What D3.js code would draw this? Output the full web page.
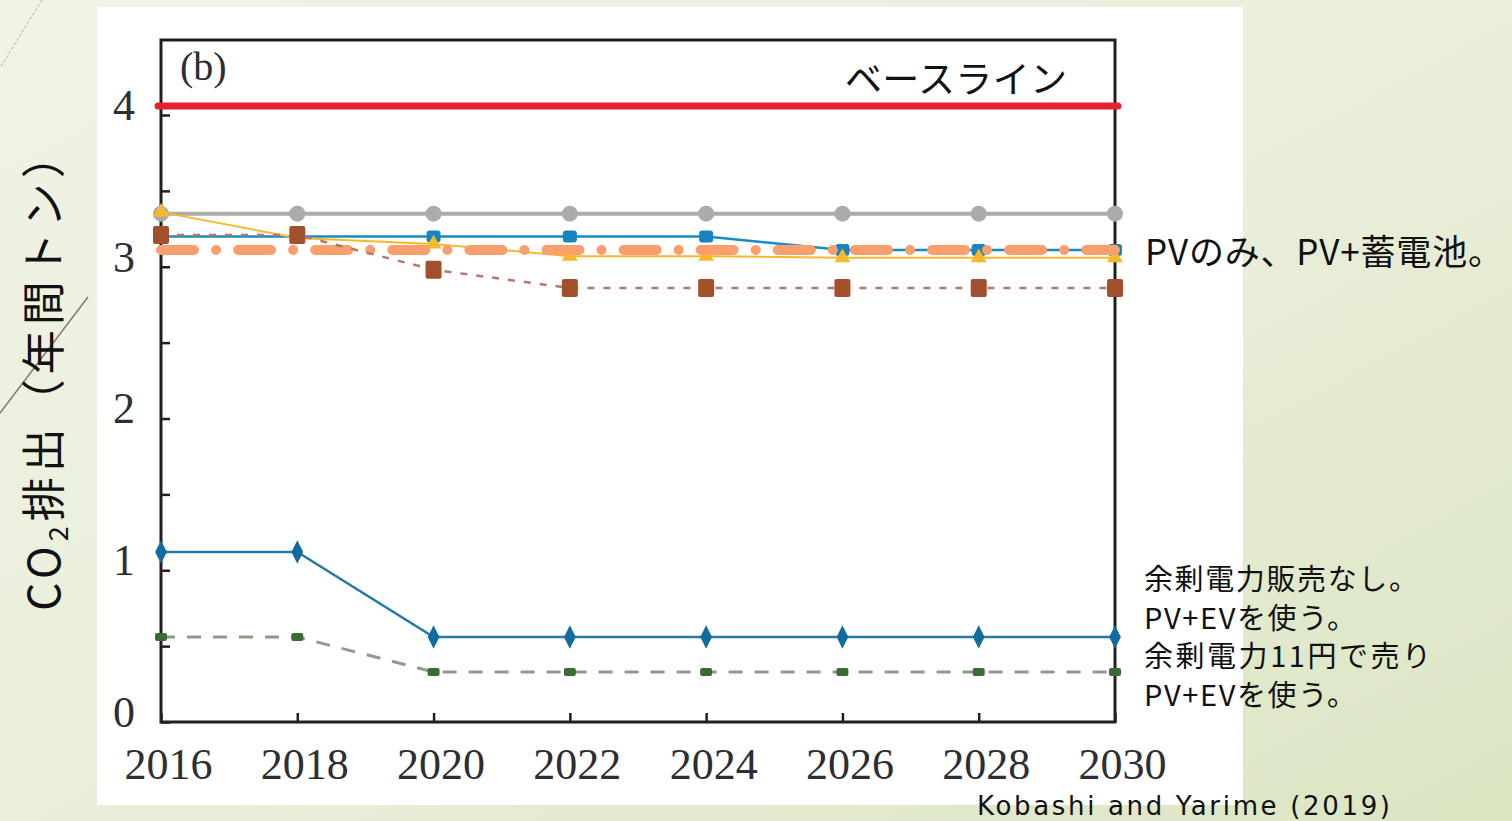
<!DOCTYPE html>
<html>
<head>
<meta charset="utf-8">
<script src="https://cdn.jsdelivr.net/npm/d3@7"></script>
<style>
  html, body { margin: 0; padding: 0; overflow: hidden; }
  body { width: 1512px; height: 821px; }
  svg { display: block; }
</style>
</head>
<body>
<svg id="chart" width="1512" height="821"></svg>
<script>
// Scenario data: annual CO2 emissions (t/year) per household, 2016–2030
const years = [2016, 2018, 2020, 2022, 2024, 2026, 2028, 2030];
const baseline      = [4.06, 4.06, 4.06, 4.06, 4.06, 4.06, 4.06, 4.06];
const grayCircle    = [3.35, 3.35, 3.35, 3.35, 3.35, 3.35, 3.35, 3.35];
const blueSquare    = [3.20, 3.20, 3.20, 3.20, 3.20, 3.11, 3.11, 3.11];
const yellowTri     = [3.36, 3.19, 3.15, 3.07, 3.07, 3.06, 3.06, 3.06];
const orangeDashDot = [3.11, 3.11, 3.11, 3.11, 3.11, 3.11, 3.11, 3.11];
const brownSquare   = [3.21, 3.21, 2.98, 2.86, 2.86, 2.86, 2.86, 2.86];
const tealDiamond   = [1.12, 1.12, 0.56, 0.56, 0.56, 0.56, 0.56, 0.56];
const greenSquare   = [0.56, 0.56, 0.33, 0.33, 0.33, 0.33, 0.33, 0.33];

const xTickYears = [2016, 2018, 2020, 2022, 2024, 2026, 2028, 2030];
const yMinorTicks = [0, 0.5, 1, 1.5, 2, 2.5, 3, 3.5, 4];
const yLabelTicks = [0, 1, 2, 3, 4];

const notes = ["余剰電力販売なし。", "PV+EVを使う。", "余剰電力11円で売り", "PV+EVを使う。"];

const svg = d3.select("#chart");
const W = 1512, H = 821;

// slide background
const defs = svg.append("defs");
const grad = defs.append("linearGradient").attr("id", "bg")
  .attr("x1", "0%").attr("y1", "0%").attr("x2", "100%").attr("y2", "100%");
grad.append("stop").attr("offset", "0%").attr("stop-color", "#f0f3e6");
grad.append("stop").attr("offset", "55%").attr("stop-color", "#e9eed9");
grad.append("stop").attr("offset", "100%").attr("stop-color", "#dbe5c2");
svg.append("rect").attr("width", W).attr("height", H).attr("fill", "url(#bg)");

// decorative diagonal strokes
svg.append("line").attr("x1", 42).attr("y1", 0).attr("x2", 0).attr("y2", 68)
  .attr("stroke", "#9a9a88").attr("stroke-width", 1).attr("stroke-dasharray", "3 2").attr("opacity", 0.7);
svg.append("line").attr("x1", 88).attr("y1", 297).attr("x2", 0).attr("y2", 413)
  .attr("stroke", "#857a66").attr("stroke-width", 1.5);

// white figure panel
svg.append("rect").attr("x", 97).attr("y", 7).attr("width", 1146).attr("height", 798).attr("fill", "#ffffff");

// plot geometry
const plotLeft = 161, plotRight = 1115, plotTop = 40, plotBottom = 722;
const x = d3.scaleLinear().domain([2016, 2030]).range([plotLeft, plotRight]);
const y = d3.scaleLinear().domain([0, 4]).range([plotBottom, 115]);

const axisColor = "#231f20";
const serif = "'Liberation Serif', 'Times New Roman', serif";
const jp = "'Noto Sans CJK JP', 'Noto Sans', sans-serif";

// axes with inward ticks
const gx = svg.append("g").attr("transform", `translate(0,${plotBottom})`)
  .call(d3.axisBottom(x).tickValues(xTickYears).tickSize(-9).tickPadding(26).tickFormat(d3.format("d")));
gx.select(".domain").remove();
gx.selectAll(".tick line").attr("stroke", axisColor).attr("stroke-width", 2.5);
gx.selectAll(".tick text").attr("font-family", serif).attr("font-size", 44)
  .attr("fill", "#2e2e32").attr("dx", 7);

const gyMinor = svg.append("g").attr("transform", `translate(${plotLeft},0)`)
  .call(d3.axisLeft(y).tickValues(yMinorTicks).tickSize(-9).tickFormat(""));
gyMinor.select(".domain").remove();
gyMinor.selectAll(".tick line").attr("stroke", axisColor).attr("stroke-width", 2.5);

const gy = svg.append("g").attr("transform", `translate(${plotLeft},0)`)
  .call(d3.axisLeft(y).tickValues(yLabelTicks).tickSize(0).tickPadding(26).tickFormat(d3.format("d")));
gy.select(".domain").remove();
gy.selectAll(".tick text").attr("font-family", serif).attr("font-size", 44)
  .attr("fill", "#2e2e32").attr("dy", "0.1em");

// frame
svg.append("rect").attr("x", plotLeft).attr("y", plotTop)
  .attr("width", plotRight - plotLeft).attr("height", plotBottom - plotTop)
  .attr("fill", "none").attr("stroke", axisColor).attr("stroke-width", 3);

// panel tag
svg.append("text").attr("x", 180).attr("y", 80).attr("font-family", serif).attr("font-size", 40)
  .attr("fill", "#2e2e32").text("(b)");

const line = d3.line().x((d, i) => x(years[i])).y(d => y(d));

function series(vals, opts) {
  const g = svg.append("g");
  g.append("path").attr("d", line(vals)).attr("fill", "none")
    .attr("stroke", opts.stroke).attr("stroke-width", opts.width)
    .attr("stroke-dasharray", opts.dash || null)
    .attr("stroke-linecap", opts.cap || "butt");
  return g;
}

// baseline, slightly overhanging the frame
series(baseline, { stroke: "#e5232e", width: 7, cap: "round" })
  .select("path").attr("d", `M${plotLeft - 3},${y(baseline[0])}H${plotRight + 3}`);

// gray circles
series(grayCircle, { stroke: "#a9abad", width: 4 })
  .selectAll("circle").data(grayCircle).join("circle")
  .attr("cx", (d, i) => x(years[i])).attr("cy", d => y(d)).attr("r", 8).attr("fill", "#a9abad");

// blue squares
series(blueSquare, { stroke: "#1b8ac2", width: 2.5 })
  .selectAll("rect").data(blueSquare).join("rect")
  .attr("x", (d, i) => x(years[i]) - 7).attr("y", d => y(d) - 6)
  .attr("width", 14).attr("height", 12).attr("rx", 3).attr("fill", "#1884bf");

// yellow triangles
series(yellowTri, { stroke: "#f6b92b", width: 2 })
  .selectAll("path.m").data(yellowTri).join("path").attr("class", "m")
  .attr("transform", (d, i) => `translate(${x(years[i])},${y(d)})`)
  .attr("d", d3.symbol(d3.symbolTriangle, 110)).attr("fill", "#f7b829");

// orange dash-dot
series(orangeDashDot, { stroke: "#f99f6e", width: 10, cap: "round", dash: "33 22 0.1 22" });

// brown squares on dashed line
series(brownSquare, { stroke: "#b7786a", width: 2.5, dash: "7 9" })
  .selectAll("rect").data(brownSquare).join("rect")
  .attr("x", (d, i) => x(years[i]) - 8).attr("y", d => y(d) - 9)
  .attr("width", 16).attr("height", 18).attr("rx", 2).attr("fill", "#a24f2b");

// teal diamonds
series(tealDiamond, { stroke: "#2479a8", width: 2.5 })
  .selectAll("path.m").data(tealDiamond).join("path").attr("class", "m")
  .attr("transform", (d, i) => `translate(${x(years[i])},${y(d)}) scale(1,1.15)`)
  .attr("d", d3.symbol(d3.symbolDiamond, 120)).attr("fill", "#136d9c");

// green squares on gray dashed line
series(greenSquare, { stroke: "#8f9a8c", width: 3, dash: "14 12" })
  .selectAll("rect").data(greenSquare).join("rect")
  .attr("x", (d, i) => x(years[i]) - 6).attr("y", d => y(d) - 4)
  .attr("width", 12).attr("height", 8).attr("rx", 2).attr("fill", "#3c6a34");

// annotations (widths fitted with textLength)
svg.append("text").attr("x", 845).attr("y", 93).attr("font-family", jp).attr("font-size", 37)
  .attr("textLength", 222).attr("lengthAdjust", "spacing").attr("fill", "#111").text("ベースライン");
svg.append("text").attr("x", 1145).attr("y", 265).attr("font-family", jp).attr("font-size", 35)
  .attr("textLength", 358).attr("lengthAdjust", "spacing").attr("fill", "#111").text("PVのみ、PV+蓄電池。");

const noteLengths = [274, 212, 287, 212];
svg.append("g").selectAll("text").data(notes).join("text")
  .attr("x", 1144).attr("y", (d, i) => 590 + i * 38.5)
  .attr("font-family", jp).attr("font-size", 29)
  .attr("textLength", (d, i) => noteLengths[i]).attr("lengthAdjust", "spacing")
  .attr("fill", "#111").text(d => d);

svg.append("text").attr("x", 977).attr("y", 815).attr("font-family", "'DejaVu Sans', sans-serif")
  .attr("font-size", 26).attr("textLength", 413).attr("lengthAdjust", "spacing")
  .attr("fill", "#111").text("Kobashi and Yarime (2019)");

// y-axis title
const yt = svg.append("text").attr("transform", "translate(60,370) rotate(-90)")
  .attr("text-anchor", "middle").attr("font-family", jp).attr("font-size", 44)
  .attr("letter-spacing", 5).attr("fill", "#111");
yt.append("tspan").text("CO");
yt.append("tspan").attr("font-size", 27).attr("dy", 8).text("2");
yt.append("tspan").attr("dy", -8).text("排出（年間トン）");
</script>
</body>
</html>
